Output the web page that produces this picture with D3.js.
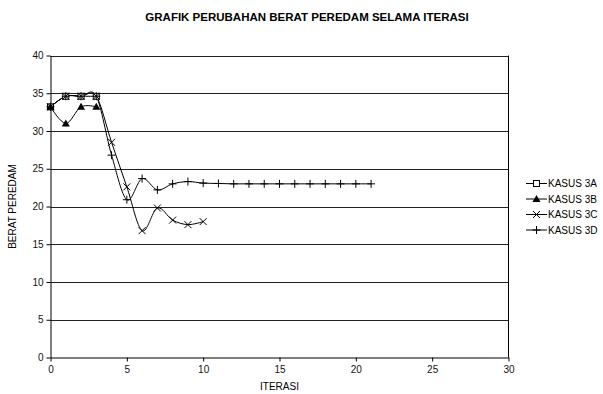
<!DOCTYPE html>
<html><head><meta charset="utf-8">
<script src="https://cdn.jsdelivr.net/npm/d3@7"></script>
<style>body{margin:0;background:#fff}svg{display:block;font-family:"Liberation Sans",Arial,sans-serif}</style>
</head><body><svg id="c" width="603" height="394"></svg>
<script>
const title = "GRAFIK PERUBAHAN BERAT PEREDAM SELAMA ITERASI";
const xLabel = "ITERASI";
const yLabel = "BERAT PEREDAM";
const xTicks = [0,5,10,15,20,25,30];
const yTicks = [0,5,10,15,20,25,30,35,40];
const seriesNames = ["KASUS 3A","KASUS 3B","KASUS 3C","KASUS 3D"];
const kasus3A = [33.2,34.6,34.6,34.6];
const kasus3B = [33.2,31.0,33.2,33.2];
const kasus3C = [33.2,34.6,34.6,34.6,28.5,22.6,16.8,19.8,18.2,17.6,18.0];
const kasus3D = [33.2,34.6,34.6,34.6,26.8,20.9,23.7,22.2,23.0,23.3,23.1,23.05,23.0,23.0,23.0,23.0,23.0,23.0,23.0,23.0,23.0,23.0];
const markers = ["square","triangle","x","plus"];

const svg = d3.select("#c");
const L = 50.5, R = 508.5, T = 55.5, B = 357.5;
const x = d3.scaleLinear().domain([0,30]).range([L,R]);
const y = d3.scaleLinear().domain([0,40]).range([B,T]);

svg.append("text").attr("x",307).attr("y",21).attr("text-anchor","middle")
  .attr("font-size",11.5).attr("font-weight","bold").text(title);

// gridlines
svg.append("g").selectAll("line").data(yTicks.filter(d=>d>0)).join("line")
  .attr("x1",L).attr("x2",R).attr("y1",d=>Math.round(y(d))+0.5).attr("y2",d=>Math.round(y(d))+0.5)
  .attr("stroke","#222").attr("stroke-width",1);
// right border
svg.append("line").attr("x1",R).attr("x2",R).attr("y1",T).attr("y2",B).attr("stroke","#000");

const gx = svg.append("g").attr("transform",`translate(0,${B})`)
  .call(d3.axisBottom(x).tickValues(xTicks).tickSize(4).tickSizeOuter(0).tickPadding(4));
const gy = svg.append("g").attr("transform",`translate(${L},0)`)
  .call(d3.axisLeft(y).tickValues(yTicks).tickSize(4).tickSizeOuter(0).tickPadding(3));
[gx,gy].forEach(g=>{
  g.selectAll("text").attr("font-size",10).attr("font-family","Liberation Sans, Arial, sans-serif").attr("fill","#111");
  g.select(".domain").attr("stroke","#000");
  g.selectAll(".tick line").attr("stroke","#000");
});

svg.append("text").attr("x",(L+R)/2).attr("y",390).attr("text-anchor","middle").attr("font-size",10).text(xLabel);
svg.append("text").attr("transform",`translate(16,${(T+B)/2}) rotate(-90)`).attr("text-anchor","middle")
  .attr("font-size",10).text(yLabel);

const line = d3.line().x((d,i)=>x(i)).y(d=>y(d)).curve(d3.curveCardinal.tension(0));
const allSeries = [kasus3A,kasus3B,kasus3C,kasus3D];

function drawMarker(g, type, cx, cy){
  if(type==="square") g.append("rect").attr("x",cx-3).attr("y",cy-3).attr("width",6).attr("height",6).attr("fill","#fff").attr("stroke","#000").attr("stroke-width",1);
  else if(type==="triangle") g.append("path").attr("d",`M${cx},${cy-4}L${cx+4},${cy+3}L${cx-4},${cy+3}Z`).attr("fill","#000");
  else if(type==="x") g.append("path").attr("d",`M${cx-3.5},${cy-3.5}L${cx+3.5},${cy+3.5}M${cx-3.5},${cy+3.5}L${cx+3.5},${cy-3.5}`).attr("stroke","#000").attr("stroke-width",1);
  else g.append("path").attr("d",`M${cx-4},${cy}L${cx+4},${cy}M${cx},${cy-4}L${cx},${cy+4}`).attr("stroke","#000").attr("stroke-width",1);
}

allSeries.forEach((s,k)=>{
  svg.append("path").attr("d",line(s)).attr("fill","none").attr("stroke","#000").attr("stroke-width",1);
});
allSeries.forEach((s,k)=>{
  const g = svg.append("g");
  s.forEach((v,i)=>drawMarker(g, markers[k], x(i), y(v)));
});

// legend
const lg = svg.append("g");
seriesNames.forEach((n,k)=>{
  const ly = 183.5 + k*15.5;
  lg.append("line").attr("x1",526).attr("x2",547).attr("y1",ly).attr("y2",ly).attr("stroke","#000");
  drawMarker(lg, markers[k], 536.5, ly);
  lg.append("text").attr("x",548).attr("y",ly+3.5).attr("font-size",10).text(n);
});
</script></body></html>
